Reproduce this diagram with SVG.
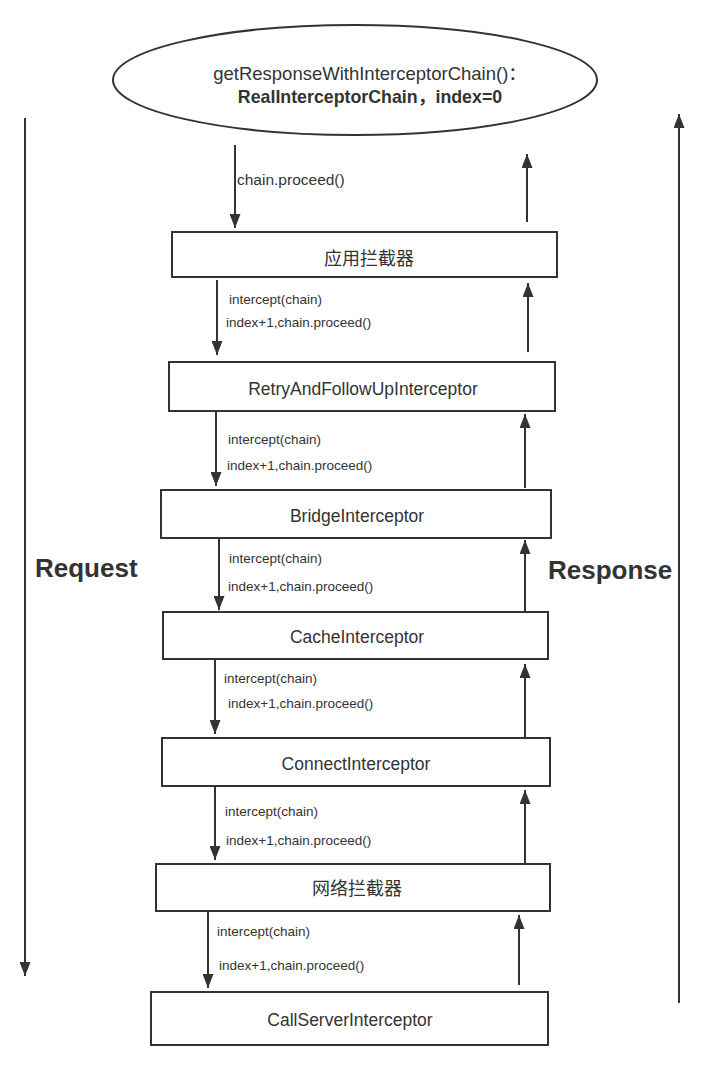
<svg xmlns="http://www.w3.org/2000/svg" width="708" height="1069" viewBox="0 0 708 1069">
<defs>
<marker id="ah" markerUnits="userSpaceOnUse" markerWidth="14" markerHeight="11" refX="14" refY="5.5" orient="auto">
<path d="M0,0 L14,5.5 L0,11 z" fill="#333"/>
</marker>
<style>
.box{fill:#fff;stroke:#333;stroke-width:2}
.bt{font-family:"Liberation Sans","Noto Sans CJK SC",sans-serif;font-size:17.5px;fill:#333;text-anchor:middle}
.cj{font-family:"Noto Sans CJK SC",sans-serif;font-size:18px}
.lb{font-family:"Liberation Sans",sans-serif;font-size:13.5px;fill:#333}
.big{font-family:"Liberation Sans",sans-serif;font-size:26px;font-weight:bold;fill:#333}
.ar{stroke:#333;stroke-width:2;fill:none;marker-end:url(#ah)}
</style>
</defs>
<rect width="708" height="1069" fill="#fff"/>
<g id="start">
<ellipse cx="355" cy="80" rx="242" ry="55" fill="#fff" stroke="#333" stroke-width="2"/>
<text x="370" y="80" class="bt" style="font-size:18.5px">getResponseWithInterceptorChain()：</text>
<text x="370" y="103" class="bt" style="font-size:17.8px;font-weight:bold">RealInterceptorChain，index=0</text>
</g>
<g id="n1"><rect class="box" x="172" y="232" width="385" height="45"/><text class="bt cj" x="369" y="265">应用拦截器</text></g>
<g id="n2"><rect class="box" x="169" y="362" width="386" height="49"/><text class="bt" x="363" y="395">RetryAndFollowUpInterceptor</text></g>
<g id="n3"><rect class="box" x="161" y="490" width="390" height="48"/><text class="bt" x="357" y="522">BridgeInterceptor</text></g>
<g id="n4"><rect class="box" x="163" y="612" width="385" height="47"/><text class="bt" x="357" y="643">CacheInterceptor</text></g>
<g id="n5"><rect class="box" x="162" y="738" width="388" height="48"/><text class="bt" x="356" y="770">ConnectInterceptor</text></g>
<g id="n6"><rect class="box" x="156" y="864" width="394" height="47"/><text class="bt cj" x="357" y="895">网络拦截器</text></g>
<g id="n7"><rect class="box" x="151" y="992" width="397" height="53"/><text class="bt" x="350" y="1026">CallServerInterceptor</text></g>
<g id="connectors">
<line class="ar" x1="25" y1="118" x2="25" y2="976"/>
<line class="ar" x1="679" y1="1003" x2="679" y2="114"/>
<line class="ar" x1="235" y1="145" x2="235" y2="228"/>
<line class="ar" x1="217" y1="280" x2="217" y2="355"/>
<line class="ar" x1="216" y1="411" x2="216" y2="486"/>
<line class="ar" x1="219" y1="538" x2="219" y2="610"/>
<line class="ar" x1="215" y1="659" x2="215" y2="734"/>
<line class="ar" x1="215" y1="786" x2="215" y2="860"/>
<line class="ar" x1="208" y1="911" x2="208" y2="988"/>
<line class="ar" x1="527" y1="222" x2="527" y2="154"/>
<line class="ar" x1="528" y1="352" x2="528" y2="283"/>
<line class="ar" x1="525" y1="488" x2="525" y2="414"/>
<line class="ar" x1="525" y1="612" x2="525" y2="540"/>
<line class="ar" x1="525" y1="737" x2="525" y2="664"/>
<line class="ar" x1="525" y1="864" x2="525" y2="790"/>
<line class="ar" x1="519" y1="985" x2="519" y2="915"/>
</g>
<g id="labels">
<text class="big" x="35" y="577">Request</text>
<text class="big" x="548" y="579">Response</text>
<text class="lb" x="237" y="185" style="font-size:15.5px">chain.proceed()</text>
<text class="lb" x="229" y="304">intercept(chain)</text>
<text class="lb" x="226" y="327">index+1,chain.proceed()</text>
<text class="lb" x="228" y="444">intercept(chain)</text>
<text class="lb" x="227" y="470">index+1,chain.proceed()</text>
<text class="lb" x="229" y="563">intercept(chain)</text>
<text class="lb" x="228" y="591">index+1,chain.proceed()</text>
<text class="lb" x="224" y="683">intercept(chain)</text>
<text class="lb" x="228" y="708">index+1,chain.proceed()</text>
<text class="lb" x="225" y="816">intercept(chain)</text>
<text class="lb" x="226" y="845">index+1,chain.proceed()</text>
<text class="lb" x="217" y="936">intercept(chain)</text>
<text class="lb" x="219" y="970">index+1,chain.proceed()</text>
</g>
</svg>
